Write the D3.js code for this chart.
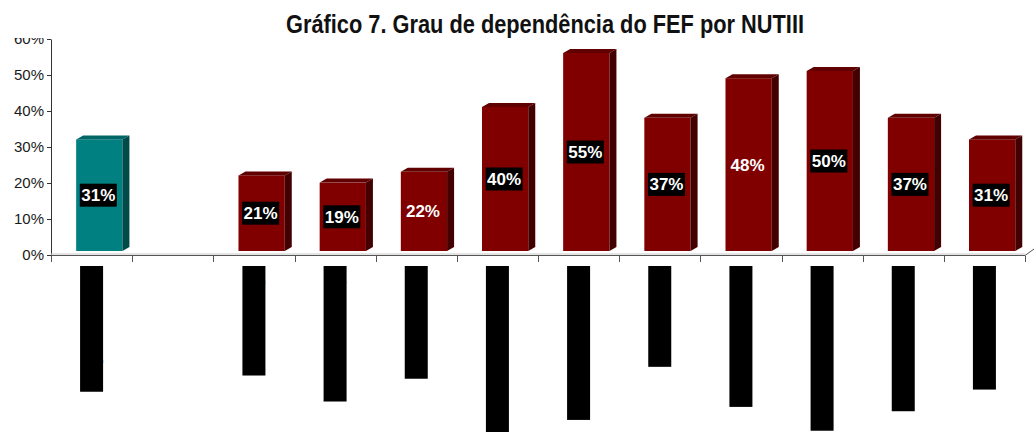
<!DOCTYPE html>
<html>
<head>
<meta charset="utf-8">
<script src="https://cdn.jsdelivr.net/npm/d3@7"></script>
<style>
  html, body { margin: 0; padding: 0; background: #fff; overflow: hidden; }
  svg { display: block; }
</style>
</head>
<body>
<div id="content"></div>
<script>
// chart data
const categories = ["Região Centro", "", "Baixo Vouga", "Baixo Mondego", "Pinhal Litoral",
  "Pinhal Interior Norte", "Pinhal Interior Sul", "Dão-Lafões", "Serra da Estrela",
  "Beira Interior Norte", "Beira Interior Sul", "Cova da Beira"];
const values = [0.31, null, 0.21, 0.19, 0.22, 0.40, 0.55, 0.37, 0.48, 0.50, 0.37, 0.31];
const boxedLabel = [true, false, true, true, false, true, true, true, false, true, true, true];
const yTicks = [0, 0.1, 0.2, 0.3, 0.4, 0.5, 0.6];
const title = "Gráfico 7. Grau de dependência do FEF por NUTIII";

const W = 1034;
const H = 432;
const font = "Arial, 'Liberation Sans', sans-serif";

const svg = d3.select("#content")
  .append("svg")
  .attr("width", W)
  .attr("height", H);

svg.append("rect").attr("width", W).attr("height", H).attr("fill", "white");

const x = d3.scaleBand().domain(categories).range([51, 1025]);
const y = d3.scaleLinear().domain([0, 0.6]).range([255, 39]);
const pct = d3.format(".0%");

// 3d depth of the bars
const dx = 7, dy = 4;
const barW = x.bandwidth() * 0.57;
const barOff = x.bandwidth() * 0.31;

// title
svg.append("text")
  .attr("x", 545)
  .attr("y", 33)
  .attr("text-anchor", "middle")
  .attr("font-family", "'Liberation Sans Narrow', 'Arial Narrow', Arial, sans-serif")
  .attr("font-weight", "bold")
  .attr("font-size", 25)
  .attr("textLength", 518)
  .attr("lengthAdjust", "spacingAndGlyphs")
  .attr("fill", "#111")
  .text(title);

// clip at the top of the plot (the 60% label is cut)
svg.append("clipPath").attr("id", "plotclip")
  .append("rect").attr("x", 0).attr("y", 38).attr("width", W).attr("height", H - 38);

// y axis
const yAxis = svg.append("g")
  .attr("clip-path", "url(#plotclip)")
  .append("g")
  .attr("transform", "translate(51,0)")
  .call(d3.axisLeft(y).tickValues(yTicks).tickFormat(pct).tickSize(4).tickSizeOuter(0).tickPadding(3));
yAxis.select(".domain").attr("stroke", "#333");
yAxis.selectAll(".tick line").attr("stroke", "#333");
yAxis.selectAll(".tick text")
  .attr("font-family", font)
  .attr("font-size", 15)
  .attr("fill", "#1a1a1a");

// x axis / floor edge
const x0 = x.range()[0], x1 = x.range()[1];
svg.append("line").attr("x1", x0).attr("x2", x1).attr("y1", 254).attr("y2", 254)
  .attr("stroke", "#c8c8c8");
svg.append("line").attr("x1", x0).attr("x2", x1).attr("y1", 255.5).attr("y2", 255.5)
  .attr("stroke", "#555");
svg.append("line").attr("x1", x1).attr("x2", x1 + 9).attr("y1", 255.5).attr("y2", 249)
  .attr("stroke", "#555");
const bounds = categories.map(c => x(c)).concat([x1]);
svg.append("g").selectAll("line")
  .data(bounds)
  .join("line")
  .attr("x1", d => Math.round(d) + 0.5)
  .attr("x2", d => Math.round(d) + 0.5)
  .attr("y1", 256)
  .attr("y2", 262)
  .attr("stroke", "#555");

// bars
const data = categories.map((c, i) => ({ c, v: values[i], boxed: boxedLabel[i], i }))
  .filter(d => d.v != null);

const bars = svg.append("g").selectAll("g")
  .data(data)
  .join("g");

const colorsFor = d => d.i === 0
  ? { front: "#008080", top: "#006666", side: "#004a4a" }
  : { front: "#800000", top: "#600000", side: "#420000" };

bars.each(function (d) {
  const g = d3.select(this);
  const bx = x(d.c) + barOff;
  const top = y(d.v) - dy;
  const bot = y(0) - dy;
  const col = colorsFor(d);
  g.append("rect")
    .attr("x", bx).attr("y", top)
    .attr("width", barW).attr("height", bot - top)
    .attr("fill", col.front);
  g.append("path")
    .attr("d", `M${bx},${top}L${bx + dx},${top - dy}L${bx + barW + dx},${top - dy}L${bx + barW},${top}Z`)
    .attr("fill", col.top);
  g.append("path")
    .attr("d", `M${bx + barW},${top}L${bx + barW + dx},${top - dy}L${bx + barW + dx},${bot - dy}L${bx + barW},${bot}Z`)
    .attr("fill", col.side);

  // value label
  const cx = bx + barW / 2 - 1;
  const cy = (top + bot) / 2;
  const box = g.append("rect").attr("fill", "black");
  const t = g.append("text")
    .attr("x", cx)
    .attr("y", cy + 6)
    .attr("text-anchor", "middle")
    .attr("font-family", font)
    .attr("font-weight", "bold")
    .attr("font-size", 17)
    .attr("fill", "white")
    .text(pct(d.v));
  if (d.boxed) {
    const tw = t.node().getComputedTextLength();
    box.attr("x", cx - tw / 2 - 1.5).attr("y", cy - 11.5)
      .attr("width", tw + 3).attr("height", 23);
  } else {
    box.remove();
  }
});

// category labels: rotated text drawn black on a black background
const labels = svg.append("g").selectAll("g")
  .data(categories.filter(c => c !== ""))
  .join("g");

labels.each(function (c) {
  const g = d3.select(this);
  const cx = x(c) + x.bandwidth() / 2;
  const bg = g.append("rect").attr("fill", "black");
  const t = g.append("text")
    .attr("transform", `translate(${cx + 7},266) rotate(-90)`)
    .attr("text-anchor", "end")
    .attr("font-family", font)
    .attr("font-size", 19.5)
    .attr("fill", "black")
    .text(c);
  const len = t.node().getComputedTextLength();
  bg.attr("x", cx - 11.5).attr("y", 266).attr("width", 23).attr("height", len);
});
</script>
</body>
</html>
